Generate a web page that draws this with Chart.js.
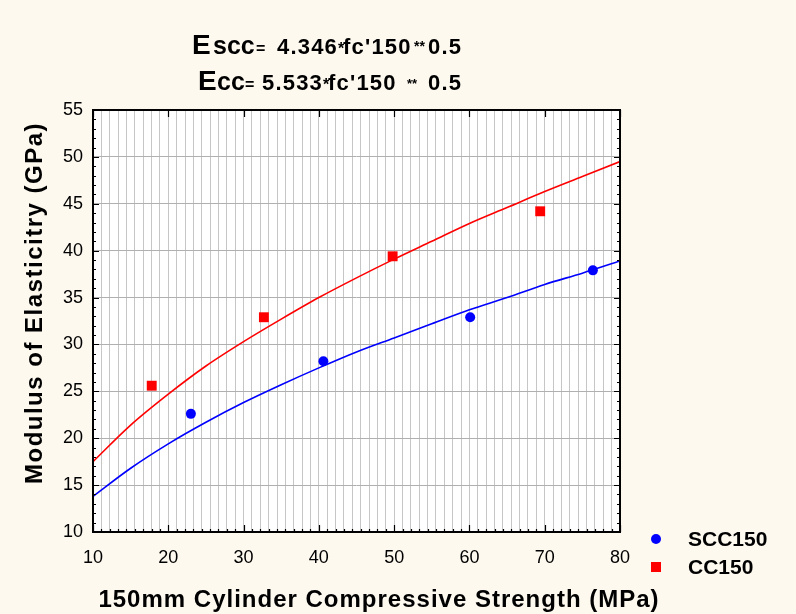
<!DOCTYPE html>
<html>
<head>
<meta charset="utf-8">
<script src="https://cdn.jsdelivr.net/npm/chart.js@4/dist/chart.umd.min.js"></script>
<style>
  html, body { margin: 0; padding: 0; background: #fdf9ef; }
  #wrap { width: 796px; height: 614px; position: relative; }
</style>
</head>
<body>
<div id="wrap"><canvas id="c" width="796" height="614"></canvas></div>
<script>
// ---- data ----
const seriesNames = ['SCC150', 'CC150'];
const sccX = [23.0, 40.6, 60.1, 76.4];
const sccY = [22.6, 28.2, 32.9, 37.9];
const ccX = [17.8, 32.7, 49.8, 69.4];
const ccY = [25.6, 32.9, 39.4, 44.2];
// fitted curves
const fitX   = [10, 15, 20, 25, 30, 35, 40, 45, 50, 55, 60, 65, 70, 75, 80];
const sccFit = [13.8, 16.8, 19.4, 21.7, 23.8, 25.7, 27.5, 29.2, 30.7, 32.2, 33.7, 35.0, 36.4, 37.6, 38.9];
const ccFit  = [17.5, 21.4, 24.7, 27.7, 30.3, 32.7, 35.0, 37.1, 39.1, 41.0, 42.9, 44.6, 46.3, 47.9, 49.5];
// axis ticks
const xTicks = [10, 20, 30, 40, 50, 60, 70, 80];
const yTicks = [10, 15, 20, 25, 30, 35, 40, 45, 50, 55];
const xTitle = '150mm Cylinder Compressive Strength (MPa)';
const yTitle = 'Modulus of Elasticitry (GPa)';
const titleLine1 = [['E', 28], ['scc', 25], ['=', 16], ['4.346', 22], ['*', 16], ["fc'150", 22], ['**', 14], ['0.5', 22]];
const titleLine2 = [['E', 28], ['cc', 25], ['=', 16], ['5.533', 22], ['*', 16], ["fc'150", 22], ['**', 13], ['0.5', 22]];

const FONT = '"Liberation Sans", Arial, sans-serif';
const BLUE = '#0000ff', RED = '#ff0000';

const pts = (xs, ys) => xs.map((x, i) => ({ x: x, y: ys[i] }));

// minor vertical grid: 9 divisions per 10 units
const xMin = xTicks[0], xMax = xTicks[xTicks.length - 1];
const gridStep = 10 / 9;
const minorX = [];
for (let k = 0; xMin + k * gridStep <= xMax + 1e-6; k++) minorX.push(xMin + k * gridStep);

const deco = {
  id: 'deco',
  beforeDraw(chart) {
    const { ctx, chartArea: a } = chart;
    ctx.save();
    ctx.fillStyle = '#fdf9ef';
    ctx.fillRect(0, 0, chart.width, chart.height);
    ctx.fillStyle = '#ffffff';
    ctx.fillRect(a.left, a.top, a.right - a.left, a.bottom - a.top);
    ctx.restore();
  },
  afterDraw(chart) {
    const { ctx, chartArea: a } = chart;
    const xs = chart.scales.x, ys = chart.scales.y;
    ctx.save();
    // frame
    ctx.strokeStyle = '#000';
    ctx.lineWidth = 2;
    ctx.strokeRect(a.left, a.top, a.right - a.left, a.bottom - a.top);
    // ticks (inward)
    ctx.lineWidth = 1.2;
    ctx.beginPath();
    for (let v = yTicks[0]; v <= yTicks[yTicks.length - 1]; v++) {
      const y = Math.round(ys.getPixelForValue(v)) + 0.5;
      const len = (v % 5 === 0) ? 6 : 3;
      ctx.moveTo(a.left, y); ctx.lineTo(a.left + len, y);
      ctx.moveTo(a.right, y); ctx.lineTo(a.right - len, y);
    }
    minorX.forEach(v => {
      const x = Math.round(xs.getPixelForValue(v)) + 0.5;
      ctx.moveTo(x, a.bottom); ctx.lineTo(x, a.bottom - 3);
    });
    xTicks.forEach(v => {
      const x = Math.round(xs.getPixelForValue(v)) + 0.5;
      ctx.moveTo(x, a.bottom); ctx.lineTo(x, a.bottom - 7);
      ctx.moveTo(x, a.top); ctx.lineTo(x, a.top + 7);
    });
    ctx.stroke();

    // title (formulas)
    ctx.fillStyle = '#000';
    ctx.textBaseline = 'alphabetic';
    ctx.textAlign = 'left';
    const line1X = [192, 213, 256, 277, 338, 343, 414, 428];
    const line1Y = [54, 54, 54, 54, 54, 54, 51, 54];
    const line2X = [198, 217, 245, 262, 323, 328, 407, 428];
    const line2Y = [90, 90, 90, 90, 90, 90, 88, 90];
    const drawLine = (parts, px, py) => {
      parts.forEach((p, i) => {
        ctx.font = 'bold ' + p[1] + 'px ' + FONT;
        ctx.letterSpacing = (p[1] === 22) ? '1.2px' : '0px';
        ctx.fillText(p[0], px[i], py[i]);
      });
    };
    drawLine(titleLine1, line1X, line1Y);
    drawLine(titleLine2, line2X, line2Y);

    // axis titles
    ctx.font = 'bold 24px ' + FONT;
    ctx.letterSpacing = '1px';
    ctx.textAlign = 'center';
    ctx.fillText(xTitle, 379, 607);
    ctx.save();
    ctx.translate(42, 303);
    ctx.rotate(-Math.PI / 2);
    ctx.letterSpacing = '1.5px';
    ctx.fillText(yTitle, 0, 0);
    ctx.restore();

    // legend
    ctx.letterSpacing = '0px';
    ctx.textAlign = 'left';
    ctx.textBaseline = 'middle';
    ctx.font = 'bold 21px ' + FONT;
    ctx.fillStyle = BLUE;
    ctx.beginPath(); ctx.arc(656, 539, 5, 0, Math.PI * 2); ctx.fill();
    ctx.fillStyle = RED;
    ctx.fillRect(651, 562, 10, 10);
    ctx.fillStyle = '#000';
    ctx.fillText(seriesNames[0], 688, 540);
    ctx.fillText(seriesNames[1], 688, 568);
    ctx.restore();
  }
};

new Chart(document.getElementById('c'), {
  type: 'scatter',
  data: {
    datasets: [
      { label: seriesNames[0], data: pts(sccX, sccY), backgroundColor: BLUE, borderColor: BLUE,
        pointStyle: 'circle', pointRadius: 5, pointBorderWidth: 0, showLine: false },
      { label: seriesNames[1], data: pts(ccX, ccY), backgroundColor: RED, borderColor: RED,
        pointStyle: 'rect', pointRadius: 7, pointBorderWidth: 0, showLine: false },
      { label: 'SCC fit', data: pts(fitX, sccFit), borderColor: BLUE, borderWidth: 1.6,
        pointRadius: 0, showLine: true, cubicInterpolationMode: 'monotone' },
      { label: 'CC fit', data: pts(fitX, ccFit), borderColor: RED, borderWidth: 1.6,
        pointRadius: 0, showLine: true, cubicInterpolationMode: 'monotone' }
    ]
  },
  options: {
    responsive: false,
    animation: false,
    events: [],
    layout: { padding: { top: 110, right: 176, bottom: 0, left: 0 } },
    plugins: { legend: { display: false }, tooltip: { enabled: false }, title: { display: false } },
    scales: {
      x: {
        type: 'linear', position: 'bottom', min: xMin, max: xMax,
        afterBuildTicks: s => { s.ticks = xTicks.map(v => ({ value: v })); },
        afterFit: s => { s.height = 82; },
        grid: { display: false, drawTicks: false },
        border: { display: false },
        ticks: { font: { family: FONT, size: 18 }, color: '#000', padding: 15, maxRotation: 0, autoSkip: false }
      },
      x2: {
        type: 'linear', position: 'bottom', min: xMin, max: xMax,
        afterBuildTicks: s => { s.ticks = minorX.map(v => ({ value: v })); },
        afterFit: s => { s.height = 0; },
        grid: { display: true, drawTicks: false, color: '#c6c6c6', lineWidth: 1, borderDash: [2, 2] },
        border: { display: false },
        ticks: { display: false }
      },
      y: {
        type: 'linear', position: 'left', min: yTicks[0], max: yTicks[yTicks.length - 1],
        afterBuildTicks: s => { s.ticks = yTicks.map(v => ({ value: v })); },
        afterFit: s => { s.width = 93; },
        grid: { display: true, drawTicks: false, color: '#b0b0b0', lineWidth: 1, borderDash: [2, 2] },
        border: { display: false },
        ticks: { font: { family: FONT, size: 18 }, color: '#000', padding: 10, autoSkip: false }
      }
    }
  },
  plugins: [deco]
});
</script>
</body>
</html>
